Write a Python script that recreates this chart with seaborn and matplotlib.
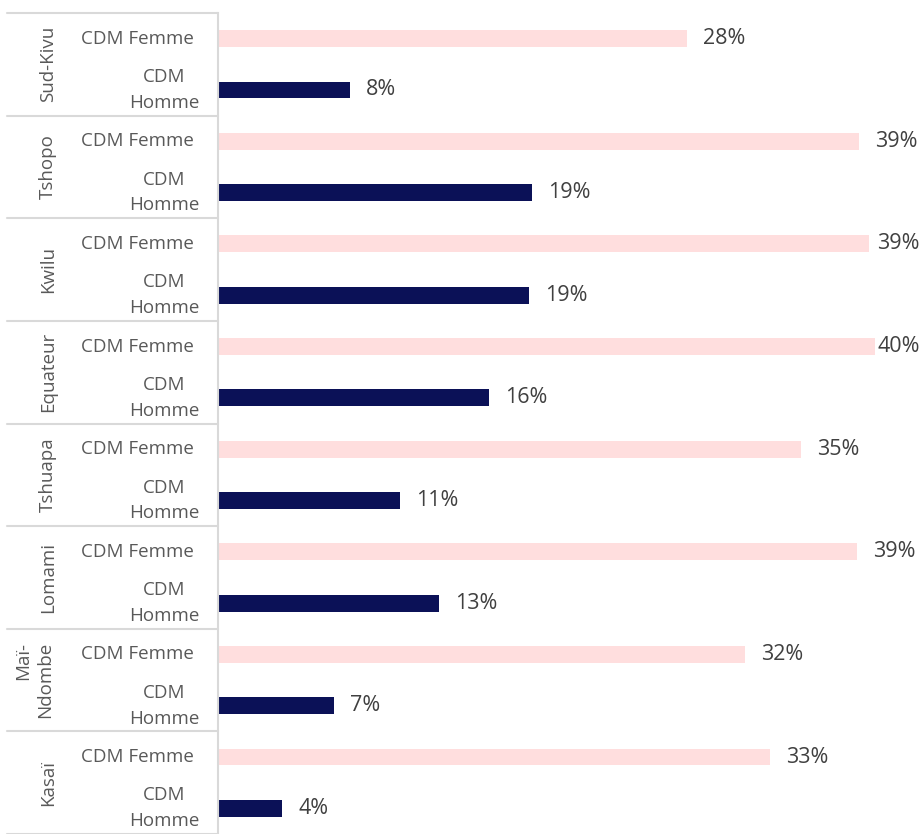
import matplotlib
matplotlib.use("Agg")
import matplotlib.pyplot as plt
import matplotlib.transforms as mtransforms
import pandas as pd
import seaborn as sns

# données (% par province)
provinces = ["Sud-Kivu", "Tshopo", "Kwilu", "Equateur", "Tshuapa", "Lomami", "Maï-\nNdombe", "Kasaï"]
femme = [28.4, 38.8, 39.4, 39.8, 35.3, 38.7, 31.9, 33.4]
homme = [8.0, 19.0, 18.8, 16.4, 11.0, 13.4, 7.0, 3.9]
sous_labels = ["CDM Femme", "CDM\nHomme"]

rows = []
for p, f, h in zip(provinces, femme, homme):
    rows.append({"ligne": p + " F", "sexe": "Femme", "valeur": f})
    rows.append({"ligne": p + " H", "sexe": "Homme", "valeur": h})
df = pd.DataFrame(rows)

sns.set_theme(style="white")
plt.rcParams["font.family"] = ["Open Sans", "DejaVu Sans"]

W, H = 920, 834
fig = plt.figure(figsize=(W / 100, H / 100), dpi=100)
ax = fig.add_axes([218 / W, 0, 1 - 218 / W, 1 - 13 / H])

sns.barplot(data=df, x="valeur", y="ligne", hue="sexe", orient="h",
            palette={"Femme": "#FFDEDE", "Homme": "#0B1157"}, saturation=1,
            dodge=False, width=0.33, legend=False, linewidth=0, ax=ax)

ax.set_xlim(0, 42.5)
ax.set_ylim(len(df) - 0.5, -0.5)
ax.set_xlabel("")
ax.set_ylabel("")
ax.set_xticks([])
ax.set_yticks([])
for s in ["top", "right", "bottom"]:
    ax.spines[s].set_visible(False)
ax.spines["left"].set_color("#d9d9d9")
ax.spines["left"].set_linewidth(1.5)

# étiquettes de valeurs
for i, v in enumerate(df["valeur"]):
    ax.text(min(v + 0.97, 39.9), i, f"{v:.0f}%", va="center", ha="left",
            fontsize=15.5, color="#404040")

# axe catégoriel à deux niveaux
trans = mtransforms.blended_transform_factory(fig.transFigure, ax.transData)
for g, prov in enumerate(provinces):
    yf, yh = 2 * g, 2 * g + 1
    ax.text(194 / W, yf, sous_labels[0], transform=trans, ha="right", va="center",
            fontsize=13.5, color="#595959")
    ax.text(164 / W, yh, sous_labels[1], transform=trans, ha="center", va="center",
            multialignment="center", fontsize=13.5, color="#595959", linespacing=1.55)
    xp = 34 if "\n" in prov else 48
    ax.text(xp / W, 2 * g + 0.5, prov, transform=trans, ha="center", va="center",
            rotation=90, multialignment="right", fontsize=13.5, color="#595959",
            linespacing=1.3)

for k in range(len(provinces) + 1):
    y = 2 * k - 0.5
    ax.plot([7 / W, 218 / W], [y, y], transform=trans, color="#d9d9d9",
            lw=1.5, clip_on=False)

fig.savefig("out.png", dpi=100)
